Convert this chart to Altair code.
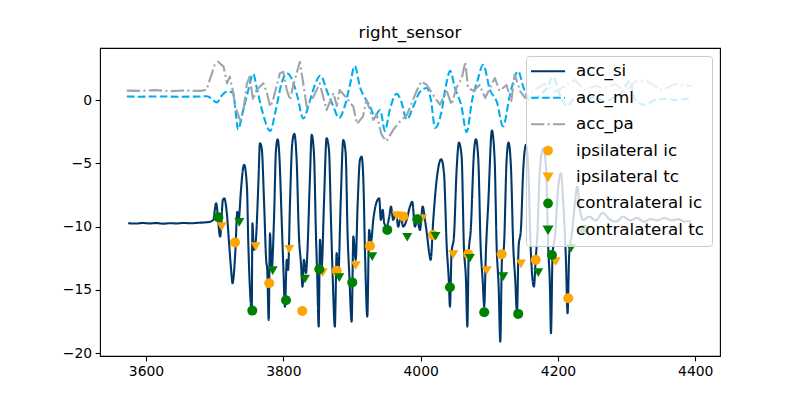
import altair as alt
import pandas as pd

series_names = ["acc_si", "acc_ml", "acc_pa", "ipsilateral ic", "ipsilateral tc",
                "contralateral ic", "contralateral tc"]
series_colors = ["#00386B", "#00AEEF", "#9DA4AD", "#FFA500", "#FFA500", "#008000", "#008000"]

acc_si = [(3574,-9.72),(3585,-9.75),(3595,-9.70),(3605,-9.74),(3615,-9.71),(3625,-9.76),(3635,-9.72),
(3645,-9.74),(3655,-9.70),(3665,-9.73),(3675,-9.69),(3685,-9.66),(3692,-9.62),
(3698,-9.46),(3702,-8.14),(3708,-10.78),(3712,-7.88),(3714,-7.75),(3717.5,-8.81),(3721,-11.30),(3724,-13.42),
(3726,-14.47),(3730,-12.09),(3733,-8.81),(3735,-9.46),(3738,-7.35),(3741,-5.51),(3743,-5.11),(3747,-6.83),
(3749,-11.30),(3751,-14.47),(3754,-16.58),(3755,-9.72),(3757,-11.83),(3760,-11.04),(3763.5,-6.83),(3766,-3.40),
(3768.5,-3.77),(3772,-8.12),(3775,-12.62),(3776.6,-13.42),(3778.7,-17.37),(3780.6,-10.51),(3783,-13.42),
(3786.4,-9.46),(3789.3,-3.93),(3791.8,-3.08),(3794,-4.19),(3797.6,-9.46),(3800,-13.15),(3802.4,-16.32),
(3805,-12.62),(3807,-13.42),(3809.7,-8.14),(3813,-3.40),(3816,-2.66),(3819.4,-4.72),(3822.8,-10.78),
(3825.7,-12.89),(3828,-14.74),(3830,-12.62),(3833,-13.68),(3835,-12.09),(3838.8,-6.04),(3841.3,-2.74),
(3844.6,-4.19),(3847.6,-10.78),(3849.4,-13.94),(3851.5,-17.90),(3853.4,-11.04),(3855.9,-13.15),(3859.2,-8.14),
(3863,-3.00),(3866.5,-3.93),(3869.4,-9.46),(3871.9,-13.94),(3875,-17.90),(3877.7,-12.09),(3880,-13.94),
(3883.5,-8.14),(3887.3,-3.14),(3890.8,-4.19),(3893.7,-10.78),(3896,-13.68),(3899.5,-17.50),(3902,-10.78),
(3905.4,-12.62),(3908.3,-8.14),(3911.6,-4.72),(3914,-4.46),(3916.4,-6.04),(3919,-12.09),(3922.3,-17.11),
(3925,-10.25),(3927.6,-11.30),(3931,-9.46),(3936,-8.02),(3939.7,-7.75),(3942,-9.46),(3944.7,-8.67),(3947,-9.72),
(3950.5,-9.99),(3954.3,-9.20),(3956.8,-8.41),(3960,-9.46),(3964,-8.93),(3967.4,-9.99),(3971,-9.20),(3974.7,-9.99),
(3979.6,-9.46),(3984.4,-8.41),(3987.8,-8.02),(3991.7,-9.99),(3995,-9.46),(3999,-10.25),(4003,-8.41),(4006.3,-9.46),
(4009.6,-10.78),(4012.5,-12.09),(4014.6,-12.62),(4018.4,-9.46),(4023.3,-6.30),(4030,-4.66),(4034,-5.77),
(4038,-11.57),(4041,-14.21),(4042.7,-16.32),(4045,-12.09),(4048.5,-10.78),(4052.4,-5.51),(4055.8,-3.35),
(4059.7,-4.46),(4063,-11.57),(4066,-14.21),(4068,-17.90),(4070,-12.09),(4073,-10.25),(4077.6,-4.19),(4080.5,-3.08),
(4084,-4.72),(4087.4,-11.57),(4090.3,-14.21),(4092.6,-16.32),(4095,-12.09),(4098.5,-8.14),(4103.8,-2.40),
(4107.8,-4.72),(4110.7,-11.57),(4113.6,-14.74),(4116,-19.08),(4118.4,-12.62),(4121.3,-11.57),(4125.2,-4.72),
(4128,-3.35),(4131.5,-5.25),(4134.9,-11.57),(4137.8,-14.21),(4140.3,-16.84),(4142.7,-11.57),(4146,-10.25),
(4149.4,-5.51),(4153.4,-3.53),(4156.7,-5.25),(4160.2,-11.57),(4163,-14.21),(4165,-14.74),(4167.5,-12.62),
(4169.8,-10.78),(4173.7,-5.51),(4178.5,-3.79),(4182.5,-5.25),(4185.8,-11.57),(4188.3,-14.74),(4189.8,-18.42),
(4192.2,-12.09),(4195.6,-10.78),(4200.4,-6.83),(4204.3,-5.77),(4207.7,-8.14),(4211.6,-12.62),(4214,-16.84),
(4216.4,-12.09),(4220,-10.65),(4224.7,-8.14),(4228,-6.83),(4232,-8.67),(4236.8,-9.46),(4245,-9.2),(4255,-9.5),
(4265,-8.9),(4275,-9.4),(4285,-9.6),(4295,-9.2),(4305,-9.5),(4315,-9.3),(4325,-9.6),(4335,-9.4),(4345,-9.5),
(4355,-9.3),(4365,-9.5),(4375,-9.4),(4385,-9.6),(4394,-9.55)]

acc_ml = [(3572,0.30),(3591,0.28),(3620,0.30),(3650,0.28),(3679,0.30),(3689,0.32),(3696,0.10),(3703,-0.17),
(3711,0.42),(3719,0.70),(3727,0.58),(3730,-0.61),(3734,-2.31),(3741,-0.92),(3749,0.81),(3756,2.08),(3762,0.81),
(3770,-1.00),(3781,-2.43),(3789,-0.77),(3798,1.45),(3805,2.13),(3813,1.60),(3820,0.42),(3829,-1.44),(3839,0.02),
(3846,1.21),(3854,1.96),(3864,0.66),(3872,-0.37),(3881,-1.40),(3890,-0.37),(3897,1.21),(3904,2.71),(3912,0.97),
(3919,0.18),(3926,-0.45),(3933,-1.24),(3941,-0.77),(3948,-2.43),(3955,-0.77),(3965,0.50),(3971,0.02),(3980,-1.52),
(3989,-0.53),(3999,0.66),(4009,0.97),(4015,0.02),(4021,-2.19),(4030,-1.00),(4037,1.21),(4043,2.32),(4050,0.97),
(4059,-0.37),(4067,-2.51),(4075,0.02),(4083,1.60),(4091,2.81),(4101,0.81),(4111,-0.13),(4120,-2.06),(4130,0.42),
(4142,2.29),(4150,0.97),(4159,0.02),(4174,0.42),(4184,0.97),(4193,1.84),(4203,0.42),(4213,-0.45),(4225,0.18),
(4239,0.02),(4254,0.26),(4268,-0.06),(4283,0.26),(4293,0.66),(4305,1.53),(4312,0.02),(4327,-0.37),(4341,0.02),
(4356,0.10),(4370,0.02),(4385,0.10),(4395,0.18)]

acc_pa = [(3572,0.76),(3591,0.74),(3613,0.80),(3635,0.72),(3657,0.77),(3679,0.74),(3688,0.81),(3696,2.13),
(3700,2.79),(3705,3.05),(3713,2.66),(3718,1.34),(3722,1.87),(3727,0.58),(3730,-0.51),(3737,-1.56),(3742,-0.77),
(3747,1.34),(3751,1.87),(3756,0.02),(3761,0.81),(3771,1.34),(3776,0.58),(3781,-0.51),(3785,0.02),(3795,2.13),
(3800,2.24),(3805,0.81),(3810,0.02),(3814,1.08),(3824,3.03),(3829,1.34),(3834,-0.51),(3844,0.28),(3853,1.34),
(3863,-0.77),(3873,0.55),(3878,-0.45),(3882,0.81),(3892,0.18),(3902,-0.51),(3907,-1.87),(3916,-1.30),(3921,0.02),
(3931,-1.56),(3936,-1.14),(3943,-2.72),(3950,-3.24),(3960,-2.35),(3970,-1.66),(3980,-1.16),(3994,0.71),
(4001,1.50),(4009,1.21),(4018,0.42),(4028,-0.35),(4038,0.74),(4045,-0.35),(4052,0.97),(4060,1.76),(4065,3.03),
(4069,0.97),(4077,0.74),(4086,1.21),(4094,0.18),(4101,0.97),(4108,1.76),(4115,0.74),(4125,1.21),(4132,-0.06),
(4137,2.02),(4145,0.71),(4152,0.18),(4166,0.81),(4181,1.29),(4196,0.66),(4210,1.13),(4225,1.60),(4239,0.81),
(4254,1.13),(4268,0.97),(4283,1.29),(4298,0.66),(4312,1.45),(4327,1.60),(4338,1.23),(4349,0.81),(4359,0.97),
(4370,1.29),(4378,1.23),(4395,1.11)]

ipsi_ic = [(3729.6,-11.24),(3779.5,-14.47),(3827.6,-16.66),(3877.7,-13.49),(3926.2,-11.52),(3974.7,-9.19),
(4018,-10.65),(4069.3,-12.15),(4118,-12.17),(4167.5,-12.62),(4215,-15.65)]
ipsi_tc = [(3710.2,-9.99),(3759.7,-11.57),(3808.7,-11.78),(3857.3,-13.63),(3905.4,-13.08),(3964.8,-9.12),
(4001.9,-9.38),(4047.5,-12.21),(4096.1,-13.47),(4146.1,-12.94),(4196.6,-12.76)]
contra_ic = [(3705.3,-9.25),(3754.8,-16.63),(3803.9,-15.81),(3852.4,-13.36),(3900.4,-14.40),(3951.4,-10.25),
(3995.1,-9.41),(4042.7,-14.78),(4092.6,-16.76),(4142.1,-16.89),(4191.2,-12.23),(4237.8,-10.23)]
contra_tc = [(3735.9,-9.66),(3784.5,-13.47),(3831.5,-14.13),(3881.5,-14.02),(3929.5,-12.36),(3980.5,-10.83),
(4021.6,-10.75),(4071.8,-12.49),(4120.3,-13.95),(4171.3,-13.63),(4218.9,-11.70)]

x_ticks = [3600, 3800, 4000, 4200, 4400]
y_ticks = [-20, -15, -10, -5, 0]


def frame(name, pts):
    return pd.DataFrame({"x": [p[0] for p in pts], "y": [p[1] for p in pts], "series": name})


points_df = pd.concat([frame("ipsilateral ic", ipsi_ic), frame("ipsilateral tc", ipsi_tc),
                       frame("contralateral ic", contra_ic), frame("contralateral tc", contra_tc)],
                      ignore_index=True)

line_path = "M-4.4,0H4.4"
shape_range = [line_path, line_path, line_path, "circle", "triangle-down", "circle", "triangle-down"]
dash_range = [[1, 0], [7.7, 3.3], [13.3, 3.3, 2.1, 3.3], [1, 0], [1, 0], [1, 0], [1, 0]]

color_scale = alt.Scale(domain=series_names, range=series_colors)
dash_scale = alt.Scale(domain=series_names, range=dash_range)
x_enc = alt.X("x:Q", scale=alt.Scale(domain=[3533, 4436], nice=False, zero=False),
              axis=alt.Axis(values=x_ticks, format="d", title=None))
y_enc = alt.Y("y:Q", scale=alt.Scale(domain=[-20.22, 4.13], nice=False, zero=False),
              axis=alt.Axis(values=y_ticks, format="d", title=None))


def line_layer(name, pts, interp):
    return alt.Chart(frame(name, pts)).mark_line(
        strokeWidth=2.1, strokeJoin="round", interpolate=interp
    ).encode(
        x=x_enc, y=y_enc,
        color=alt.Color("series:N", scale=color_scale, legend=alt.Legend(title=None)),
        strokeDash=alt.StrokeDash("series:N", scale=dash_scale, legend=alt.Legend(title=None)),
    )


points = alt.Chart(points_df).mark_point(filled=True, size=100, opacity=1).encode(
    x=x_enc, y=y_enc,
    color=alt.Color("series:N", scale=color_scale, legend=alt.Legend(title=None)),
    shape=alt.Shape("series:N", scale=alt.Scale(domain=series_names, range=shape_range),
                    legend=alt.Legend(title=None)),
)

chart = alt.layer(
    line_layer("acc_si", acc_si, "monotone"),
    line_layer("acc_ml", acc_ml, "monotone"),
    line_layer("acc_pa", acc_pa, "linear"),
    points,
).properties(
    width=620, height=308,
    title=alt.Title("right_sensor", fontSize=16.7, fontWeight="normal", font="DejaVu Sans",
                    color="black", anchor="middle", baseline="alphabetic", offset=-7),
    autosize=alt.AutoSizeParams(type="none"),
    padding={"left": 100, "top": 48, "right": 80, "bottom": 44},
).configure_view(
    stroke="black", strokeWidth=1.1
).configure_axis(
    domain=False, grid=False, tickColor="black", tickSize=4.9, tickWidth=1.1,
    labelFontSize=13.9, labelFont="DejaVu Sans", labelColor="black", labelPadding=3.5,
).configure_legend(
    orient="top-right", offset=8, padding=7, fillColor="rgba(255,255,255,0.8)",
    strokeColor="#cccccc", cornerRadius=3, labelFontSize=16.7, labelFont="DejaVu Sans",
    labelColor="black", symbolSize=60, symbolStrokeWidth=2, symbolOffset=6.7, labelOffset=19.6,
    rowPadding=8.4, labelLimit=300, symbolOpacity=1,
)

chart.save("out.html", embed_options={"renderer": "svg", "actions": False})
